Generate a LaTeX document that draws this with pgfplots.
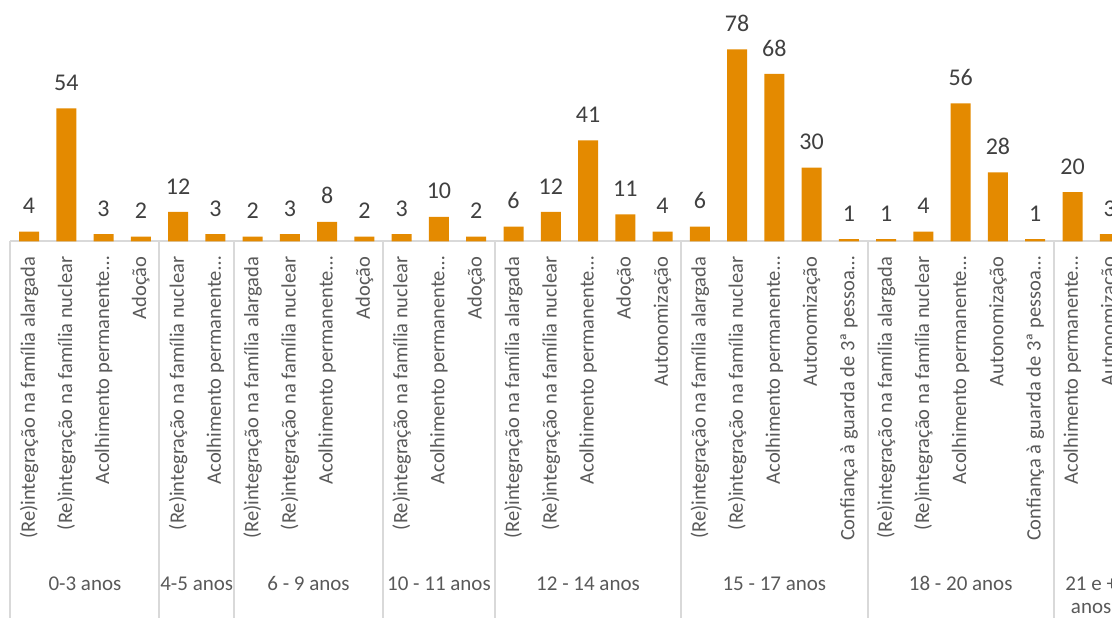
\documentclass[border=0pt]{standalone}
\usepackage{pgfplots}
\pgfplotsset{compat=1.18}
\usepackage{fontspec}
\setmainfont{Carlito}
\definecolor{barorange}{HTML}{E48A00}
\definecolor{lbl}{HTML}{595959}
\definecolor{dlbl}{HTML}{404040}
\definecolor{sepgray}{HTML}{D9D9D9}
\begin{document}
\begin{tikzpicture}[x=1pt,y=1pt]
\useasboundingbox (0,0) rectangle (1112,618);
\clip (0,0) rectangle (1112,618);
\begin{axis}[
  at={(10.4pt,376.5pt)}, anchor=south west,
  scale only axis, width=1118pt, height=221.8pt,
  xmin=-0.5, xmax=29.5, ymin=0, ymax=90,
  clip=false,
  /pgf/number format/assume math mode=true,
  axis x line*=bottom, axis y line=none,
  x axis line style={draw=sepgray, line width=2pt, -},
  xtick={0,...,29}, major tick length=0pt,
  xticklabels={
    {(Re)integração na família alargada},
    {(Re)integração na família nuclear},
    {Acolhimento permanente…},
    {Adoção},
    {(Re)integração na família nuclear},
    {Acolhimento permanente…},
    {(Re)integração na família alargada},
    {(Re)integração na família nuclear},
    {Acolhimento permanente…},
    {Adoção},
    {(Re)integração na família nuclear},
    {Acolhimento permanente…},
    {Adoção},
    {(Re)integração na família alargada},
    {(Re)integração na família nuclear},
    {Acolhimento permanente…},
    {Adoção},
    {Autonomização},
    {(Re)integração na família alargada},
    {(Re)integração na família nuclear},
    {Acolhimento permanente…},
    {Autonomização},
    {Confiança à guarda de 3ª pessoa…},
    {(Re)integração na família alargada},
    {(Re)integração na família nuclear},
    {Acolhimento permanente…},
    {Autonomização},
    {Confiança à guarda de 3ª pessoa…},
    {Acolhimento permanente…},
    {Autonomização}},
  xticklabel style={rotate=90, anchor=east, inner sep=0pt,
    font=\fontsize{20.5}{24}\selectfont, text=lbl},
  ticklabel shift=15pt,
  ybar, bar width=20pt,
  nodes near coords,
  nodes near coords style={font=\fontsize{24}{28}\selectfont, text=dlbl,
    anchor=south, inner sep=0pt, yshift=17.5pt},
]
\addplot[fill=barorange, draw=none] coordinates {
  (0,4) (1,54) (2,3) (3,2)
  (4,12) (5,3)
  (6,2) (7,3) (8,8) (9,2)
  (10,3) (11,10) (12,2)
  (13,6) (14,12) (15,41) (16,11) (17,4)
  (18,6) (19,78) (20,68) (21,30) (22,1)
  (23,1) (24,4) (25,56) (26,28) (27,1)
  (28,20) (29,3)
};
\foreach \s in {-0.5,3.5,5.5,9.5,12.5,17.5,22.5,27.5}{
  \edef\temp{\noexpand\draw[sepgray, line width=2pt] (axis cs:\s,0) -- ([yshift=-380pt]axis cs:\s,0);}
  \temp
}
\foreach \c/\t in {1.5/0-3 anos, 4.5/4-5 anos, 7.5/6 - 9 anos, 11/10 - 11 anos,
  15/12 - 14 anos, 20/15 - 17 anos, 25/18 - 20 anos}{
  \edef\temp{\noexpand\node[anchor=base, inner sep=0pt, text=lbl,
    font=\noexpand\fontsize{21}{25}\noexpand\selectfont] at (axis cs:\c,0) [yshift=-349pt] {\t};}
  \temp
}
\node[anchor=north, inner sep=0pt, text=lbl, align=center,
  font=\fontsize{21}{23}\selectfont] at (axis cs:28.5,0) [yshift=-335pt] {21 e +\\anos};
\end{axis}
\end{tikzpicture}
\end{document}
